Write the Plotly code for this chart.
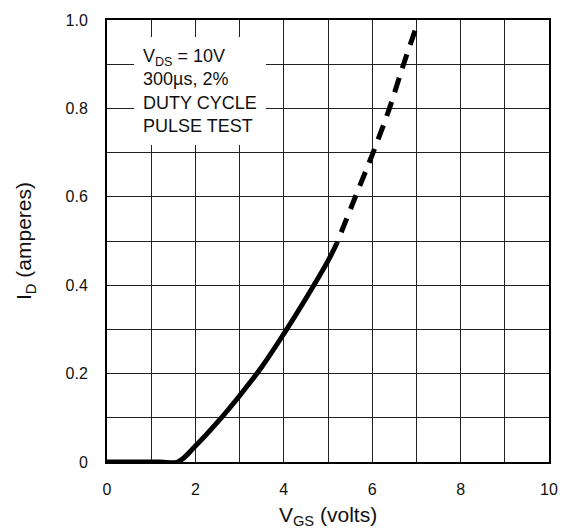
import plotly.graph_objects as go

# Data
solid_vgs = [0, 1.2, 1.6, 2.0, 2.5, 3.0, 3.5, 4.0, 4.5, 5.0, 5.2]
solid_id = [0, 0, 0, 0.036, 0.09, 0.15, 0.215, 0.29, 0.37, 0.455, 0.495]
# dashed extrapolation, listed from its top end downward
dash_vgs = [6.97, 6.71, 6.39, 6.02, 5.62, 5.2]
dash_id = [0.976, 0.9, 0.8, 0.7, 0.6, 0.495]

x_ticks = [0, 2, 4, 6, 8, 10]
x_ticktext = ["0", "2", "4", "6", "8", "10"]
y_ticks = [0, 0.2, 0.4, 0.6, 0.8, 1.0]
y_ticktext = ["0", "0.2", "0.4", "0.6", "0.8", "1.0"]

FONT = "Liberation Sans, Arial, sans-serif"

fig = go.Figure()
fig.add_trace(go.Scatter(x=solid_vgs, y=solid_id, mode="lines",
                         line=dict(color="black", width=5, shape="spline", smoothing=1.0),
                         showlegend=False, hoverinfo="skip"))
fig.add_trace(go.Scatter(x=dash_vgs, y=dash_id, mode="lines",
                         line=dict(color="black", width=5, dash="15px,10px", shape="spline", smoothing=1.0),
                         showlegend=False, hoverinfo="skip"))

grid_color = "#222"
fig.update_xaxes(range=[0, 10], tickmode="array", tickvals=x_ticks, ticktext=x_ticktext,
                 showgrid=True, gridcolor=grid_color, gridwidth=1,
                 minor=dict(tick0=0, dtick=1, showgrid=True, gridcolor=grid_color, gridwidth=1),
                 showline=True, linecolor="black", linewidth=2, mirror=True,
                 zeroline=False, ticks="", ticklabelstandoff=12, ticklabeloverflow="allow",
                 tickfont=dict(size=16, color="#111", family=FONT),
                 title=dict(text="V<sub>GS</sub> (volts)", font=dict(size=21, color="#111", family=FONT), standoff=12))
fig.update_yaxes(range=[0, 1.0], tickmode="array", tickvals=y_ticks, ticktext=y_ticktext,
                 showgrid=True, gridcolor=grid_color, gridwidth=1,
                 minor=dict(tick0=0, dtick=0.1, showgrid=True, gridcolor=grid_color, gridwidth=1),
                 showline=True, linecolor="black", linewidth=2, mirror=True,
                 zeroline=False, ticks="", ticklabelstandoff=14, ticklabeloverflow="allow",
                 tickfont=dict(size=16, color="#111", family=FONT),
                 title=dict(text="I<sub>D</sub> (amperes)", font=dict(size=21, color="#111", family=FONT), standoff=28))

fig.add_annotation(x=0.62, y=0.961, xref="x", yref="y", xanchor="left", yanchor="top",
                   text="V<sub>DS</sub> = 10V<br>300\u00b5s, 2%<br>DUTY CYCLE<br>PULSE TEST",
                   align="left", showarrow=False, bgcolor="white", borderpad=9, borderwidth=0,
                   font=dict(size=18, color="#111", family=FONT))

fig.update_layout(width=564, height=529, margin=dict(l=107, r=15, t=20, b=67, autoexpand=False),
                  paper_bgcolor="white", plot_bgcolor="white",
                  font=dict(family=FONT, color="#111"))

# remove the page's default body margin so the figure fills the 564x529 window exactly
fig.write_html("out.html", config={"displayModeBar": False, "staticPlot": True},
               post_script="document.body.style.margin='0';document.body.style.overflow='hidden';")
